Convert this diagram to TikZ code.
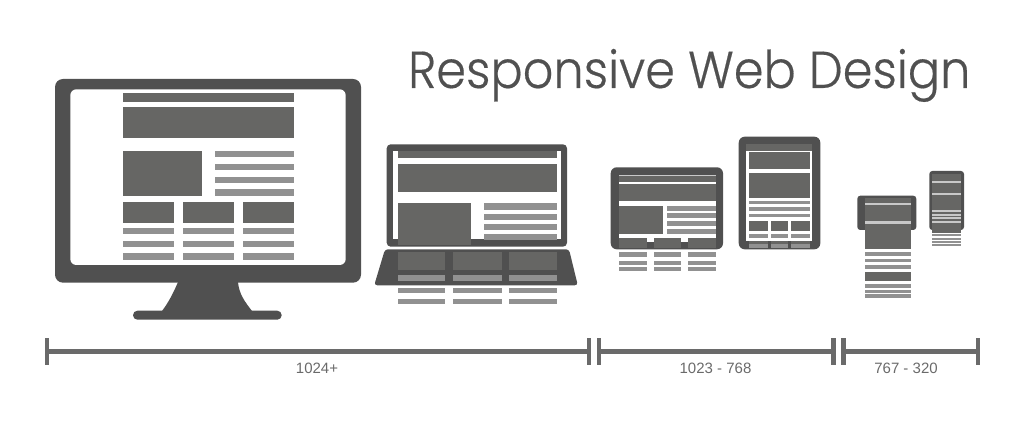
\documentclass[tikz,border=0pt]{standalone}
\usepackage{fontspec}
\setmainfont{Liberation Sans}
\newfontfamily\titlefont[FakeStretch=0.92,FakeBold=0.35]{Poppins Light}
\usepackage{xcolor}
\definecolor{bezelgray}{HTML}{505050}
\definecolor{blockgray}{HTML}{666664}
\definecolor{linegray}{HTML}{919191}
\definecolor{rulegray}{HTML}{6A6A6A}
\definecolor{gapgray}{HTML}{C8C8C8}
\tikzset{
  bezel/.style={fill=bezelgray},
  glass/.style={fill=white},
  block/.style={fill=blockgray},
  textline/.style={fill=linegray},
  gapline/.style={fill=gapgray},
  rangebar/.style={draw=rulegray,line width=5pt},
  rangetick/.style={draw=rulegray,line width=4.8pt},
  rangelabel/.style={text=rulegray,font=\fontsize{15}{17}\selectfont,anchor=base},
}
\begin{document}
\begin{tikzpicture}[x=1pt,y=-1pt]
  \useasboundingbox (0,0) rectangle (1024,435);
  % title
  \node[anchor=base west,inner sep=0pt,text=bezelgray,font=\titlefont\fontsize{52}{60}\selectfont] (title) at (408,88) {Responsive Web Design};
  % monitor
  \fill[bezel] (178,282) -- (238,282) .. controls (239,294) and (245,302) .. (252,311) -- (162,311) .. controls (168,303) and (173,294) .. (178,282);
  \fill[bezel,rounded corners=4.4pt] (133,310.7) rectangle (281.7,319.7);
  \fill[bezel,rounded corners=8pt] (55,79) rectangle (361,282.7);
  \fill[glass,rounded corners=6pt] (70.3,89.3) rectangle (345.7,265);
  \fill[block] (122.7,93.3) rectangle (294.3,102.3);
  \fill[block] (122.7,107.3) rectangle (294.3,138.3);
  \fill[block] (122.7,150.7) rectangle (202.3,195.7);
  \foreach \y in {151,163.7,176.7,189.3}
    \fill[textline] (215,\y) rectangle (294.3,\y+6.3);
  \foreach \a/\b in {122.7/174,183/234.3,243.3/294.3} {
    \fill[block] (\a,202.3) rectangle (\b,222.7);
    \foreach \y in {227.7,240.7,253.3}
      \fill[textline] (\a,\y) rectangle (\b,\y+6.3);
  }
  % laptop
  \fill[bezel,rounded corners=4pt] (386.7,144.3) rectangle (567,246.7);
  \fill[glass] (392.7,150.7) rectangle (561,239.3);
  \fill[block] (398,150.7) rectangle (556.7,158.3);
  \fill[block] (398,163.7) rectangle (556.7,191.7);
  \fill[block] (398,203.3) rectangle (471,245.3);
  \foreach \y in {203.3,213.7,224,234}
    \fill[textline] (483.7,\y) rectangle (556.7,\y+6.3);
  \fill[bezel,rounded corners=3pt] (385,249.3) -- (569,249.3) -- (577.8,285.3) -- (374.2,285.3) -- cycle;
  \foreach \a/\b in {398/445.3,453/501.7,509.3/556.7} {
    \fill[block] (\a,251.7) rectangle (\b,270);
    \fill[textline] (\a,275) rectangle (\b,281.3);
    \fill[textline] (\a,288) rectangle (\b,292.7);
    \fill[textline] (\a,299.3) rectangle (\b,304.3);
  }
  % tablet, landscape
  \fill[bezel,rounded corners=6pt] (610.7,167.3) rectangle (723,249.3);
  \fill[glass] (619.3,175) rectangle (715.7,238.3);
  \fill[glass] (647.3,238) rectangle (654.3,242.3);
  \fill[glass] (681,238) rectangle (687.7,242.3);
  \fill[block] (619.3,175) rectangle (715.7,181.7);
  \fill[gapline] (619.3,175) rectangle (715.7,176.5);
  \fill[block] (619.3,184) rectangle (715.7,200.7);
  \fill[block] (619.3,205.7) rectangle (663.3,234);
  \foreach \y in {206,213.3,221.3,229}
    \fill[textline] (667,\y) rectangle (715.7,\y+5);
  \foreach \a/\b in {619.3/647.3,654.3/681,687.7/715.7} {
    \fill[block] (\a,238.3) rectangle (\b,248.3);
    \fill[textline] (\a,252.3) rectangle (\b,257);
    \fill[textline] (\a,260.7) rectangle (\b,264.7);
    \fill[textline] (\a,267) rectangle (\b,271.3);
  }
  % tablet, portrait
  \fill[bezel,rounded corners=6pt] (738.7,136.7) rectangle (820.3,249.3);
  \fill[block] (746.3,144.3) rectangle (812,150.7);
  \fill[glass] (746.3,150.7) rectangle (812,240.7);
  \fill[block] (748.7,152.3) rectangle (810.3,168.7);
  \fill[block] (748.7,172.7) rectangle (810.3,198.3);
  \foreach \y in {200.7,207.3,213.7}
    \fill[textline] (748.7,\y) rectangle (810.3,\y+3.8);
  \foreach \a/\b in {748.7/768,770.7/788.3,791/810.3} {
    \fill[block] (\a,221.3) rectangle (\b,231.3);
    \fill[textline] (\a,234) rectangle (\b,238);
    \fill[block] (\a,240.7) rectangle (\b,244.3);
    \fill[textline] (\a,244.3) rectangle (\b,248.3);
  }
  % phone, landscape
  \fill[bezel,rounded corners=3pt] (857.3,195.7) rectangle (916.3,230);
  \fill[block] (865.3,197.7) rectangle (911.3,249);
  \fill[gapline] (865.3,203) rectangle (911.3,205);
  \fill[gapline] (865.3,221.3) rectangle (911.3,224);
  \foreach \y in {252,258.7,265,284.3,289.7,294.3}
    \fill[textline] (865.3,\y) rectangle (911.3,\y+3.7);
  \fill[block] (865.3,271.7) rectangle (911.3,281);
  % phone, portrait
  \fill[bezel,rounded corners=3pt] (929.3,171) rectangle (964,230);
  \fill[block] (932,174.3) rectangle (961.3,233.3);
  \foreach \y in {181.3,192.7,209.7,213.7,217.3,221.3}
    \fill[gapline] (932,\y) rectangle (961.3,\y+1.9);
  \foreach \y in {234.3,238,241.3,244.4}
    \fill[textline] (932,\y) rectangle (961.3,\y+1.8);
  % size ranges
  \coordinate (r1a) at (47,351.8);
  \coordinate (r1b) at (589,351.8);
  \coordinate (r2a) at (599,351.8);
  \coordinate (r2b) at (833.5,351.8);
  \coordinate (r3a) at (843.5,351.8);
  \coordinate (r3b) at (978,351.8);
  \foreach \a/\b in {r1a/r1b,r2a/r2b,r3a/r3b}
    \draw[rangebar] (\a) -- (\b);
  \foreach \p in {r1a,r1b,r2a,r2b,r3a,r3b}
    \draw[rangetick] ([yshift=13.5pt]\p) -- ([yshift=-13pt]\p);
  \node[rangelabel] (wide) at (317,373.2) {1024+};
  \node[rangelabel] (middle) at (715.5,373.2) {1023 - 768};
  \node[rangelabel] (narrow) at (906,373.2) {767 - 320};
\end{tikzpicture}
\end{document}
